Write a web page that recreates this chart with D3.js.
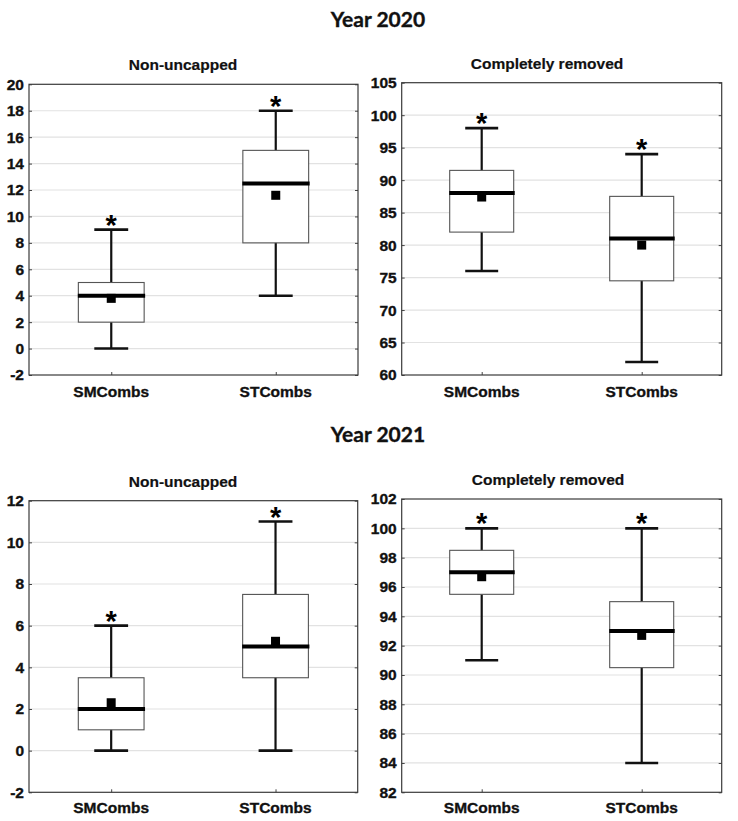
<!DOCTYPE html>
<html>
<head>
<meta charset="utf-8">
<script src="https://cdn.jsdelivr.net/npm/d3@7"></script>
<style>
  html, body { margin: 0; padding: 0; background: #fff; }
  svg { display: block; }
  .axt { font-family: 'Liberation Sans', Arial, sans-serif; font-weight: 700; font-size: 15.5px; fill: #111; stroke: #111; stroke-width: 0.35px; }
</style>
</head>
<body>
<div id="chart"></div>
<script>
// ---- data ----
const categories = ["SMCombs", "STCombs"];
const yearTitles = ["Year 2020", "Year 2021"];
const panelTitles = ["Non-uncapped", "Completely removed"];

// Year 2020 – Non-uncapped
const y2020NonMin    = [0, 4];
const y2020NonQ1     = [2, 8];
const y2020NonMedian = [4, 12.5];
const y2020NonQ3     = [5, 15];
const y2020NonMax    = [9, 18];
const y2020NonMean   = [3.8, 11.6];
const y2020NonTicks  = [-2, 0, 2, 4, 6, 8, 10, 12, 14, 16, 18, 20];

// Year 2020 – Completely removed
const y2020RemMin    = [76, 62];
const y2020RemQ1     = [82, 74.5];
const y2020RemMedian = [88, 81];
const y2020RemQ3     = [91.5, 87.5];
const y2020RemMax    = [98, 94];
const y2020RemMean   = [87.4, 80];
const y2020RemTicks  = [60, 65, 70, 75, 80, 85, 90, 95, 100, 105];

// Year 2021 – Non-uncapped
const y2021NonMin    = [0, 0];
const y2021NonQ1     = [1, 3.5];
const y2021NonMedian = [2, 5];
const y2021NonQ3     = [3.5, 7.5];
const y2021NonMax    = [6, 11];
const y2021NonMean   = [2.3, 5.25];
const y2021NonTicks  = [-2, 0, 2, 4, 6, 8, 10, 12];

// Year 2021 – Completely removed
const y2021RemMin    = [91, 84];
const y2021RemQ1     = [95.5, 90.5];
const y2021RemMedian = [97, 93];
const y2021RemQ3     = [98.5, 95];
const y2021RemMax    = [100, 100];
const y2021RemMean   = [96.7, 92.7];
const y2021RemTicks  = [82, 84, 86, 88, 90, 92, 94, 96, 98, 100, 102];

const significance = ["*", "*"];

// ---- layout ----
const W = 738, H = 821;
const svg = d3.select("#chart").append("svg").attr("width", W).attr("height", H);

function build(min, q1, med, q3, max, mean) {
  return categories.map((c, i) => ({
    cat: c, min: min[i], q1: q1[i], med: med[i], q3: q3[i], max: max[i], mean: mean[i], sig: significance[i]
  }));
}

const panels = [
  { title: panelTitles[0], data: build(y2020NonMin, y2020NonQ1, y2020NonMedian, y2020NonQ3, y2020NonMax, y2020NonMean), ticks: y2020NonTicks,
    x0: 29, x1: 358, y0: 84.3, y1: 375, titleX: 183, titleY: 70, labelY: 397 },
  { title: panelTitles[1], data: build(y2020RemMin, y2020RemQ1, y2020RemMedian, y2020RemQ3, y2020RemMax, y2020RemMean), ticks: y2020RemTicks,
    x0: 401.7, x1: 721.7, y0: 82.7, y1: 375, titleX: 547, titleY: 68.5, labelY: 397 },
  { title: panelTitles[0], data: build(y2021NonMin, y2021NonQ1, y2021NonMedian, y2021NonQ3, y2021NonMax, y2021NonMean), ticks: y2021NonTicks,
    x0: 29, x1: 357.7, y0: 500.7, y1: 792.3, titleX: 183, titleY: 486.5, labelY: 813 },
  { title: panelTitles[1], data: build(y2021RemMin, y2021RemQ1, y2021RemMedian, y2021RemQ3, y2021RemMax, y2021RemMean), ticks: y2021RemTicks,
    x0: 401.7, x1: 721.7, y0: 499, y1: 792.3, titleX: 548, titleY: 485, labelY: 813 }
];

// main titles
[27, 442].forEach((ty, i) => {
  svg.append("text").attr("x", 378).attr("y", ty).attr("text-anchor", "middle")
    .attr("font-family", "Lato, 'Open Sans', sans-serif").attr("font-weight", 700).attr("font-size", 21)
    .attr("fill", "#111").attr("stroke", "#111").attr("stroke-width", 0.35)
    .text(yearTitles[i]);
});

panels.forEach(p => {
  const g = svg.append("g");
  const y = d3.scaleLinear().domain([p.ticks[0], p.ticks[p.ticks.length - 1]]).range([p.y1, p.y0]);
  const x = d3.scalePoint().domain(categories).range([p.x0, p.x1]).padding(0.5);
  const pw = p.x1 - p.x0;
  const boxW = pw * 0.2;
  const capW = pw * 0.103;

  // title
  g.append("text").attr("class", "axt").attr("x", p.titleX).attr("y", p.titleY).attr("text-anchor", "middle")
    .style("stroke-width", "0.2px")
    .text(p.title);

  // gridlines
  g.append("g").selectAll("line").data(p.ticks.slice(1, -1)).join("line")
    .attr("x1", p.x0).attr("x2", p.x1)
    .attr("y1", d => y(d)).attr("y2", d => y(d))
    .attr("stroke", "#e2e2e2").attr("stroke-width", 1.2);

  // left axis (inner ticks + labels)
  const yAxis = d3.axisLeft(y).tickValues(p.ticks).tickSize(-3).tickPadding(5).tickFormat(d => String(d));
  const ya = g.append("g").attr("transform", `translate(${p.x0},0)`).call(yAxis)
    .attr("font-family", null).attr("font-size", null);
  ya.select(".domain").remove();
  ya.selectAll(".tick line").attr("stroke", "#444");
  ya.selectAll("text").attr("class", "axt").attr("fill", null);

  // right inner ticks
  const yAxisR = d3.axisRight(y).tickValues(p.ticks).tickSize(-3).tickFormat("");
  const yr = g.append("g").attr("transform", `translate(${p.x1},0)`).call(yAxisR);
  yr.select(".domain").remove();
  yr.selectAll(".tick line").attr("stroke", "#444");

  // bottom axis
  const xAxis = d3.axisBottom(x).tickSize(-3).tickPadding(12);
  const xa = g.append("g").attr("transform", `translate(0,${p.y1})`).call(xAxis);
  xa.select(".domain").remove();
  xa.selectAll(".tick line").attr("stroke", "#444");
  xa.selectAll("text").remove();
  g.append("g").selectAll("text").data(categories).join("text").attr("class", "axt")
    .attr("x", d => x(d)).attr("y", p.labelY).attr("text-anchor", "middle")
    .text(d => d);

  // frame
  g.append("rect").attr("x", p.x0).attr("y", p.y0).attr("width", pw).attr("height", p.y1 - p.y0)
    .attr("fill", "none").attr("stroke", "#3a3a3a").attr("stroke-width", 1.2);

  const b = g.append("g").selectAll("g").data(p.data).join("g");
  // whisker line
  b.append("line").attr("x1", d => x(d.cat)).attr("x2", d => x(d.cat))
    .attr("y1", d => y(d.min)).attr("y2", d => y(d.max))
    .attr("stroke", "#111").attr("stroke-width", 2.2);
  // caps
  b.append("line").attr("x1", d => x(d.cat) - capW / 2).attr("x2", d => x(d.cat) + capW / 2)
    .attr("y1", d => y(d.min)).attr("y2", d => y(d.min))
    .attr("stroke", "#111").attr("stroke-width", 2.6);
  b.append("line").attr("x1", d => x(d.cat) - capW / 2).attr("x2", d => x(d.cat) + capW / 2)
    .attr("y1", d => y(d.max)).attr("y2", d => y(d.max))
    .attr("stroke", "#111").attr("stroke-width", 2.6);
  // box
  b.append("rect").attr("x", d => x(d.cat) - boxW / 2).attr("width", boxW)
    .attr("y", d => y(d.q3)).attr("height", d => y(d.q1) - y(d.q3))
    .attr("fill", "#fff").attr("stroke", "#555").attr("stroke-width", 1.1);
  // mean square
  b.append("rect").attr("x", d => x(d.cat) - 4.5).attr("y", d => y(d.mean) - 4.5)
    .attr("width", 9).attr("height", 9).attr("fill", "#000");
  // median
  b.append("line").attr("x1", d => x(d.cat) - boxW / 2 - 0.5).attr("x2", d => x(d.cat) + boxW / 2 + 1)
    .attr("y1", d => y(d.med)).attr("y2", d => y(d.med))
    .attr("stroke", "#000").attr("stroke-width", 4);
  // significance star
  b.append("text").attr("x", d => x(d.cat)).attr("y", d => y(d.max) + 5)
    .attr("text-anchor", "middle")
    .attr("font-family", "'Liberation Sans', Arial, sans-serif").attr("font-weight", 700).attr("font-size", 29)
    .attr("fill", "#000").text(d => d.sig);
});
</script>
</body>
</html>
